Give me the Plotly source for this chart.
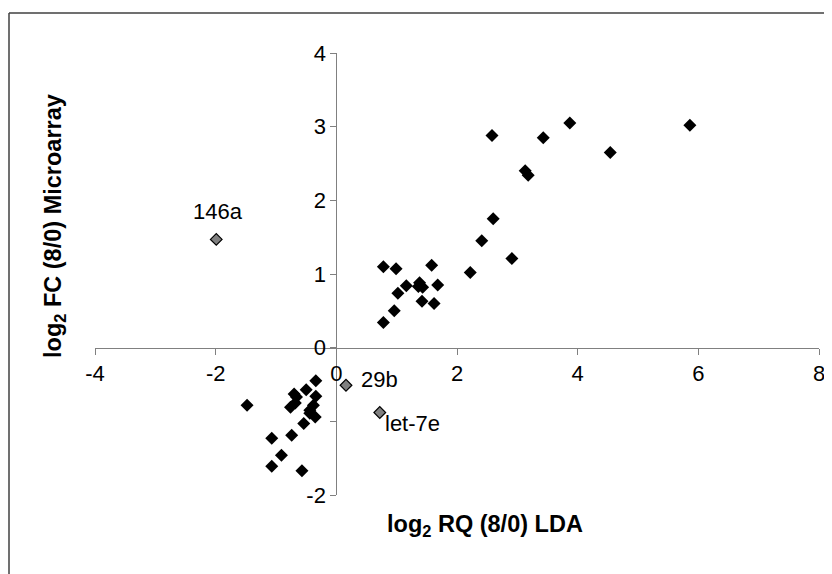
import plotly.graph_objects as go

# Black points: log2 RQ (LDA) vs log2 FC (Microarray)
x_black = [0.78, 0.99, 1.58, 1.16, 1.02, 1.38, 1.43, 1.36, 1.68, 1.42, 1.62, 0.96, 0.78,
           2.22, 2.41, 2.60, 2.91, 2.58, 3.43, 3.13, 3.18, 3.87, 4.54, 5.86,
           -0.34, -0.50, -0.70, -0.66, -0.34, -0.76, -0.68, -0.38, -0.44, -0.35, -0.44,
           -0.54, -1.48, -0.74, -1.07, -0.91, -1.07, -0.57]
y_black = [1.10, 1.07, 1.12, 0.84, 0.74, 0.88, 0.82, 0.83, 0.85, 0.63, 0.60, 0.50, 0.34,
           1.02, 1.45, 1.75, 1.21, 2.88, 2.85, 2.40, 2.34, 3.05, 2.65, 3.02,
           -0.45, -0.57, -0.63, -0.67, -0.66, -0.81, -0.75, -0.78, -0.85, -0.94, -0.89,
           -1.03, -0.78, -1.19, -1.23, -1.46, -1.61, -1.67]

# Grey labelled outliers
gray_labels = ["146a", "29b", "let-7e"]
x_gray = [-1.99, 0.16, 0.72]
y_gray = [1.47, -0.51, -0.88]
label_shift_x = [2, 34, 33]
label_shift_y = [28, 6, -11]

x_ticks = [-4, -2, 0, 2, 4, 6, 8]
x_tick_text = ["-4", "-2", "0", "2", "4", "6", "8"]
y_ticks = [-2, -1, 0, 1, 2, 3, 4]
y_tick_text = ["-2", "", "0", "1", "2", "3", "4"]

FONT = "Liberation Sans, Arial, sans-serif"

fig = go.Figure()
fig.add_trace(go.Scatter(
    x=x_black, y=y_black, mode="markers",
    marker=dict(symbol="diamond", size=10, color="black", line=dict(width=0)),
    hoverinfo="skip", showlegend=False))
fig.add_trace(go.Scatter(
    x=x_gray, y=y_gray, mode="markers",
    marker=dict(symbol="diamond", size=9, color="#808080", line=dict(width=1.2, color="black")),
    hoverinfo="skip", showlegend=False))

annotations = []
for lab, xv, yv, sx, sy in zip(gray_labels, x_gray, y_gray, label_shift_x, label_shift_y):
    annotations.append(dict(x=xv, y=yv, xref="x", yref="y", text=lab, showarrow=False,
                            xshift=sx, yshift=sy, xanchor="center", yanchor="middle",
                            font=dict(family=FONT, size=22, color="black")))

annotations.append(dict(x=(485 - 95) / 724, y=(495 - 525) / 442, xref="paper", yref="paper",
                        text="<b>log<sub>2</sub> RQ (8/0) LDA</b>", showarrow=False,
                        xanchor="center", yanchor="middle",
                        font=dict(family=FONT, size=23.5, color="black")))
annotations.append(dict(x=(54 - 95) / 724, y=(495 - 226) / 442, xref="paper", yref="paper",
                        text="<b>log<sub>2</sub> FC (8/0) Microarray</b>", showarrow=False,
                        textangle=-90, xanchor="center", yanchor="middle",
                        font=dict(family=FONT, size=23.5, color="black")))

axis_common = dict(showgrid=False, zeroline=False, showline=True, linecolor="#808080",
                   linewidth=1, ticks="outside", ticklen=6, tickcolor="#808080", tickwidth=1,
                   tickfont=dict(family=FONT, size=22, color="black"), anchor="free",
                   position=1 / 3, fixedrange=True, tickmode="array")

# the page body adds an 8px offset, so margins are reduced by 8 on the left/top
fig.update_layout(
    width=832, height=574,
    margin=dict(l=87, r=21, t=45, b=87),
    paper_bgcolor="white", plot_bgcolor="white",
    xaxis=dict(range=[-4, 8], tickvals=x_ticks, ticktext=x_tick_text, **axis_common),
    yaxis=dict(range=[-2, 4], tickvals=y_ticks, ticktext=y_tick_text, **axis_common),
    annotations=annotations,
    shapes=[
        dict(type="line", xref="paper", yref="paper",
             x0=(9 - 95) / 724, x1=(845 - 95) / 724, y0=(495 - 13) / 442, y1=(495 - 13) / 442,
             line=dict(color="#404040", width=1.5)),
        dict(type="line", xref="paper", yref="paper",
             x0=(9 - 95) / 724, x1=(9 - 95) / 724, y0=(495 - 13) / 442, y1=(495 - 590) / 442,
             line=dict(color="#404040", width=1.5)),
    ],
)

fig.write_html("out.html", config={"displayModeBar": False})
